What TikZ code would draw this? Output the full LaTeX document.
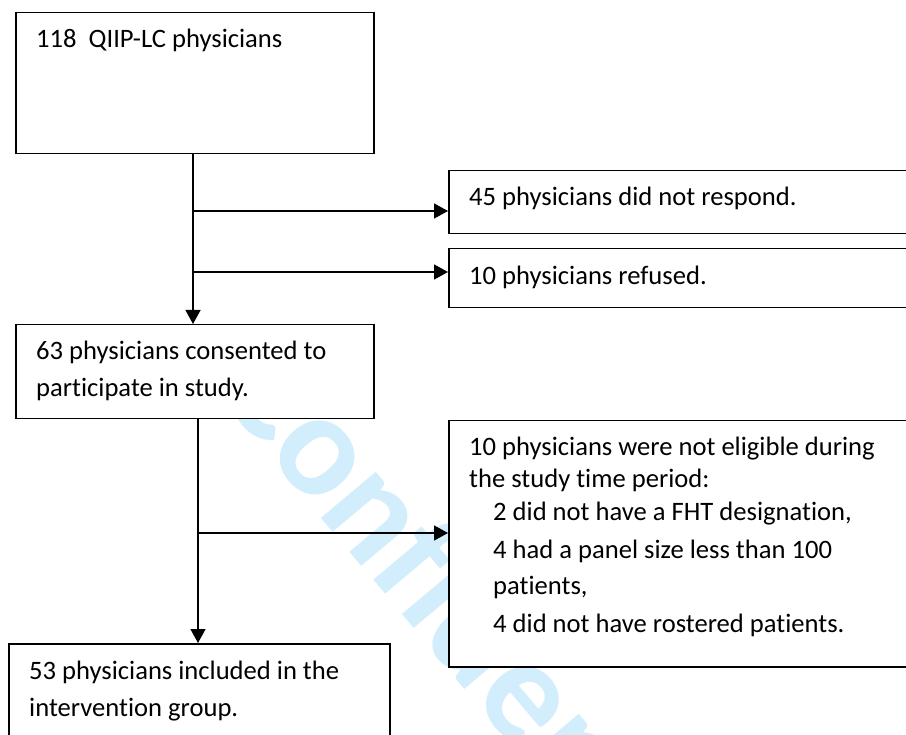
\documentclass[tikz,border=0pt]{standalone}
\usepackage{fontspec}
\setmainfont{Carlito}[Ligatures=NoCommon]
\usetikzlibrary{arrows.meta}
\definecolor{wmblue}{RGB}{210,237,251}
\tikzset{
  box/.style={draw=black, line width=1.5pt, fill=white, rectangle, inner sep=0pt, anchor=north west},
  txt/.style={anchor=base west, inner sep=0pt, font=\fontsize{26.6}{37}\selectfont},
  conn/.style={line width=1.5pt, -{Triangle[length=14pt,width=15pt]}},
  wmark/.style={anchor=base west, inner sep=0pt, text=wmblue, rotate=-50, font=\fontsize{148}{148}\selectfont\bfseries},
}
\begin{document}
\begin{tikzpicture}[x=1pt,y=-1pt]
\useasboundingbox (0,0) rectangle (906,735);
\clip (0,0) rectangle (906,735);
\node[wmark] (wm) at (214,390) {Confidential};
% boxes
\node[box, minimum width=358pt, minimum height=141pt] (b1) at (15,12) {};
\node[box, minimum width=470pt, minimum height=63pt] (b45) at (448,170) {};
\node[box, minimum width=470pt, minimum height=59pt] (b10) at (448,248) {};
\node[box, minimum width=358pt, minimum height=94pt] (b2) at (15,324) {};
\node[box, minimum width=470pt, minimum height=246pt] (b3) at (448,420) {};
\node[box, minimum width=381pt, minimum height=120pt] (b4) at (8,643) {};
% texts
\node[txt] (t1) at (36,48) {118\ \ QIIP-LC physicians};
\node[txt] (t45) at (469,206) {45 physicians did not respond.};
\node[txt] (t10) at (469,285) {10 physicians refused.};
\node[txt] (t2) at (36,360) {\vtop{\hbox{63 physicians consented to}\hbox{participate in study.}}};
\node[txt] (t3) at (469,456) {\vtop{\hbox{10 physicians were not eligible during}\vskip-5pt
  \hbox{the study time period:}\vskip-4pt
  \hbox{\hspace{24pt}2 did not have a FHT designation,}\vskip1pt
  \hbox{\hspace{24pt}4 had a panel size less than 100}\vskip-1pt
  \hbox{\hspace{24pt}patients,}\vskip1pt
  \hbox{\hspace{24pt}4 did not have rostered patients.}}};
\node[txt] (t4) at (29,679) {\vtop{\hbox{53 physicians included in the}\hbox{intervention group.}}};
% connectors
\coordinate (j1) at (193,211);
\coordinate (j2) at (193,272);
\coordinate (j3) at (198,533);
\draw[conn] (b1.south -| j1) -- (b2.north -| j1);
\draw[conn] (j1) -- (j1 -| b45.west);
\draw[conn] (j2) -- (j2 -| b10.west);
\draw[conn] (b2.south -| j3) -- (b4.north -| j3);
\draw[conn] (j3) -- (j3 -| b3.west);
\end{tikzpicture}
\end{document}
